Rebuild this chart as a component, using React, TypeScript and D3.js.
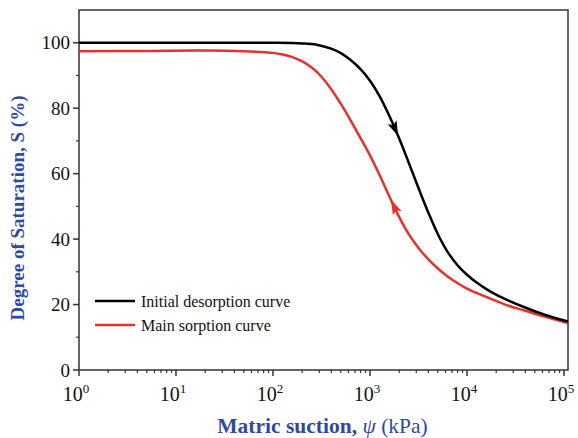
import React from "react";
import * as d3 from "d3";

const desorbSuction = [1, 10, 100, 200, 282, 398, 501, 631, 794, 1000, 1259, 1585, 1995, 2512, 3162, 3981, 5012, 6310, 7943, 10000, 12590, 15850, 19950, 25120, 39810, 63100, 110000];
const desorbS = [100, 100, 100, 99.8, 99.4, 98.2, 96.8, 94.7, 92.0, 88.4, 83.6, 77.6, 70.8, 63.3, 55.6, 48.2, 41.5, 36.1, 32.1, 29.1, 26.7, 24.7, 23.0, 21.6, 19.1, 16.9, 14.8];

const sorbSuction = [1, 5, 20, 50, 100, 126, 158, 200, 251, 316, 398, 501, 631, 794, 1000, 1259, 1585, 1995, 2512, 3162, 3981, 5012, 6310, 7943, 10000, 15850, 25120, 39810, 63100, 110000];
const sorbS = [97.4, 97.5, 97.6, 97.4, 96.9, 96.4, 95.6, 94.3, 92.4, 89.6, 85.8, 81.3, 76.3, 71.0, 65.6, 59.5, 53.0, 46.8, 41.5, 37.3, 33.9, 31.0, 28.6, 26.6, 24.9, 22.3, 19.9, 18.1, 16.3, 14.3];

const yTicks = [0, 20, 40, 60, 80, 100];
const yMinor = [10, 30, 50, 70, 90];
const xDecades = [0, 1, 2, 3, 4, 5];
const legendLabels = ["Initial desorption curve", "Main sorption curve"];

const W = 578, H = 438;
const M = { left: 79, right: 568, top: 10, bottom: 370 };
const BLUE = "#2f49a3";
const RED = "#e5322a";
const AXIS = "#333";
const SERIF = "Liberation Serif, Times New Roman, Times, DejaVu Serif, serif";

export default function App() {
  const x = d3.scaleLog().domain([1, 110000]).range([M.left, M.right]);
  const y = d3.scaleLinear().domain([0, 110]).range([M.bottom, M.top]);

  const line = d3
    .line<[number, number]>()
    .x((d) => x(d[0]))
    .y((d) => y(d[1]))
    .curve(d3.curveCatmullRom.alpha(0.5));

  const dPts: [number, number][] = desorbSuction.map((s, i) => [s, desorbS[i]]);
  const sPts: [number, number][] = sorbSuction.map((s, i) => [s, sorbS[i]]);

  const interp = (xs: number[], ys: number[], v: number) => {
    const lv = Math.log10(v);
    for (let i = 0; i < xs.length - 1; i++) {
      const a = Math.log10(xs[i]), b = Math.log10(xs[i + 1]);
      if (lv >= a && lv <= b) {
        const t = (lv - a) / (b - a);
        return ys[i] + t * (ys[i + 1] - ys[i]);
      }
    }
    return ys[ys.length - 1];
  };

  const arrow = (xs: number[], ys: number[], v: number, forward: boolean, color: string) => {
    const px = x(v), py = y(interp(xs, ys, v));
    const v2 = forward ? v / 1.15 : v * 1.15;
    const qx = x(v2), qy = y(interp(xs, ys, v2));
    const dx = px - qx, dy = py - qy;
    const len = Math.hypot(dx, dy);
    const ux = dx / len, uy = dy / len;
    const L = 15, Wd = 4.8;
    const bx = px - ux * L, by = py - uy * L;
    const pts = [
      [px, py],
      [bx - uy * Wd, by + ux * Wd],
      [bx + ux * 3, by + uy * 3],
      [bx + uy * Wd, by - ux * Wd],
    ];
    return <polygon points={pts.map((p) => p.join(",")).join(" ")} fill={color} />;
  };

  const minorX: number[] = [];
  for (let dcd = 0; dcd < 5; dcd++) {
    for (let k = 2; k <= 9; k++) minorX.push(k * Math.pow(10, dcd));
  }

  return (
    <svg width={W} height={H} style={{ display: "block", position: "absolute", left: 0, top: 0 }} fontFamily={SERIF}>
      <rect x={0} y={0} width={W} height={H} fill="#fff" />
      <rect x={M.left} y={M.top} width={M.right - M.left} height={M.bottom - M.top} fill="none" stroke={AXIS} strokeWidth={1.5} />
      {yTicks.map((t) => (
        <g key={"y" + t}>
          <line x1={M.left - 6} x2={M.left} y1={y(t)} y2={y(t)} stroke={AXIS} strokeWidth={1.5} />
          <text x={M.left - 9} y={y(t)} dy="0.35em" textAnchor="end" fontSize={19} fill="#111">
            {t}
          </text>
        </g>
      ))}
      {yMinor.map((t) => (
        <line key={"ym" + t} x1={M.left - 3} x2={M.left} y1={y(t)} y2={y(t)} stroke={AXIS} strokeWidth={1.2} />
      ))}
      {xDecades.map((e) => {
        const v = Math.pow(10, e);
        return (
          <g key={"x" + e}>
            <line x1={x(v)} x2={x(v)} y1={M.bottom} y2={M.bottom + 6} stroke={AXIS} strokeWidth={1.5} />
            <text x={x(v) - 3} y={401} textAnchor="middle" fontSize={20} fill="#111">
              10
              <tspan dy={-8} fontSize={13}>{e}</tspan>
            </text>
          </g>
        );
      })}
      {minorX.map((v, i) => (
        <line key={"xm" + i} x1={x(v)} x2={x(v)} y1={M.bottom} y2={M.bottom + 3} stroke={AXIS} strokeWidth={1.2} />
      ))}
      <path d={line(sPts) || ""} fill="none" stroke={RED} strokeWidth={2.5} />
      <path d={line(dPts) || ""} fill="none" stroke="#000" strokeWidth={2.5} />
      {arrow(desorbSuction, desorbS, 1950, true, "#000")}
      {arrow(sorbSuction, sorbS, 1640, false, RED)}
      <line x1={95} x2={135} y1={301} y2={301} stroke="#000" strokeWidth={2.5} />
      <text x={141} y={301} dy="0.35em" fontSize={16} fill="#111">{legendLabels[0]}</text>
      <line x1={95} x2={135} y1={325} y2={325} stroke={RED} strokeWidth={2.5} />
      <text x={141} y={325} dy="0.35em" fontSize={16} fill="#111">{legendLabels[1]}</text>
      <text transform={`translate(24, ${(M.top + M.bottom) / 2 + 18}) rotate(-90)`} textAnchor="middle" fontSize={19} fontWeight="bold" fill={BLUE}>
        Degree of Saturation, S (%)
      </text>
      <text x={(M.left + M.right) / 2 - 1} y={433} textAnchor="middle" fontSize={21.5} fill={BLUE}>
        <tspan fontWeight="bold">Matric suction, </tspan>
        <tspan fontStyle="italic">ψ</tspan>
        <tspan> (kPa)</tspan>
      </text>
    </svg>
  );
}
